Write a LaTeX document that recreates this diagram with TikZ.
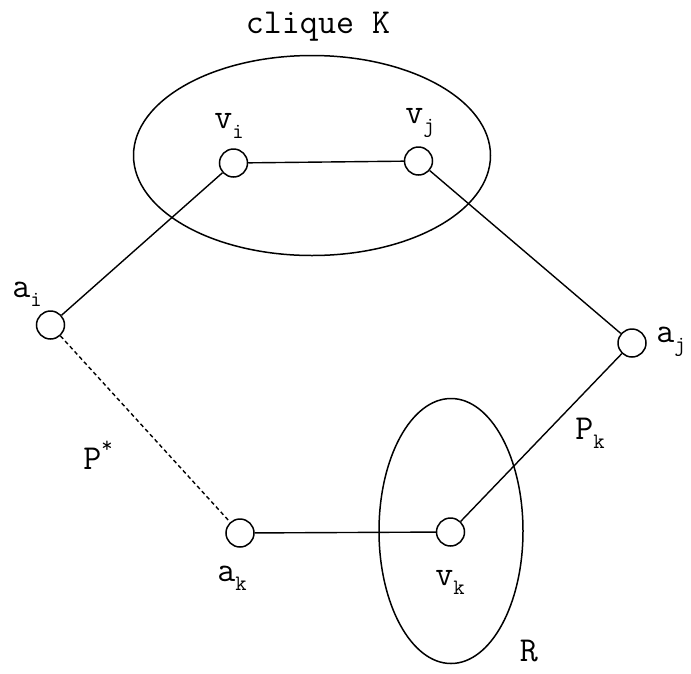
\documentclass[tikz,border=0pt]{standalone}
\usepackage{fontspec}
\usetikzlibrary{shapes.geometric}
\newcommand\mysub[1]{\raisebox{-0.26em}{\fontsize{22}{23}\selectfont #1}}
\newcommand\mysup[1]{\raisebox{0.48em}{\fontsize{22}{23}\selectfont #1}}
\begin{document}
\begin{tikzpicture}[x=1pt,y=-1pt,
  vtx/.style={circle,draw,line width=1.5pt,minimum size=28pt,inner sep=0pt},
  edge/.style={line width=1.4pt},
  blob/.style={ellipse,draw,line width=1.5pt,inner sep=0pt},
  lbl/.style={font=\ttfamily\fontsize{35}{37}\selectfont,inner sep=0pt}]
\useasboundingbox (0,0) rectangle (691,673);
\node[blob,minimum width=357pt,minimum height=200pt] (K) at (312,155.5) {};
\node[blob,minimum width=144pt,minimum height=265pt] (R) at (451,531) {};
\node[vtx] (vi) at (233.5,163) {};
\node[vtx] (vj) at (418.5,161) {};
\node[vtx] (ai) at (50.5,325) {};
\node[vtx] (aj) at (632,343) {};
\node[vtx] (ak) at (240,533) {};
\node[vtx] (vk) at (450.5,532) {};
\node[lbl] (tK) at (318,27) {clique K};
\node[lbl] (lvi) at (229,126) {v\mysub{i}};
\node[lbl] (lvj) at (420,123) {v\mysub{j}};
\node[lbl] (lai) at (27,294) {a\mysub{i}};
\node[lbl] (laj) at (671,342) {a\mysub{j}};
\node[lbl] (lak) at (232,578) {a\mysub{k}};
\node[lbl] (lvk) at (450,582) {v\mysub{k}};
\node[lbl] (lP) at (98,455) {P\mysup{*}};
\node[lbl] (lPk) at (590,433) {P\mysub{k}};
\node[lbl] (lR) at (529,651) {R};
\draw[edge] (vi) -- (vj);
\draw[edge] (vi) -- (ai);
\draw[edge] (vj) -- (aj);
\draw[edge] (aj) -- (vk);
\draw[edge] (ak) -- (vk);
\draw[edge,dash pattern=on 4pt off 3pt] (ai) -- (ak);
\end{tikzpicture}
\end{document}
